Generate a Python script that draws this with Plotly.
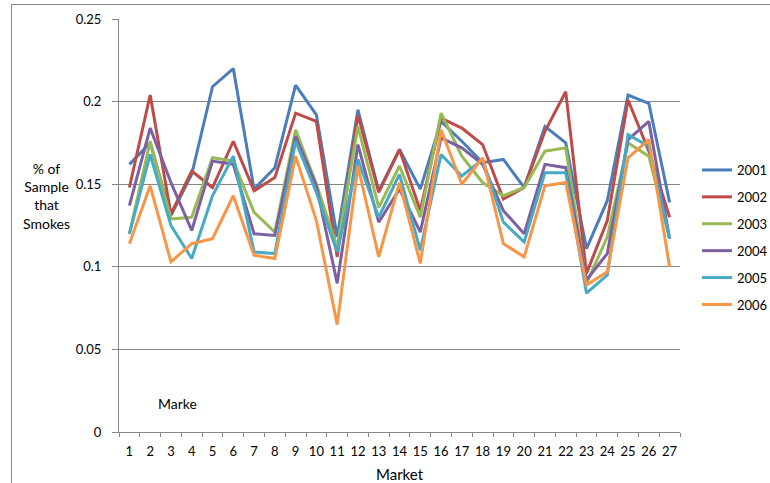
import plotly.graph_objects as go

markets = [str(i) for i in range(1, 28)]

s2001 = [0.162, 0.175, 0.131, 0.156, 0.209, 0.220, 0.147, 0.160, 0.210, 0.192, 0.118, 0.195,
         0.146, 0.171, 0.147, 0.188, 0.176, 0.163, 0.165, 0.148, 0.185, 0.175, 0.111, 0.140,
         0.204, 0.199, 0.139]
s2002 = [0.148, 0.204, 0.132, 0.158, 0.148, 0.176, 0.146, 0.154, 0.193, 0.188, 0.106, 0.192,
         0.145, 0.171, 0.134, 0.190, 0.184, 0.174, 0.141, 0.148, 0.182, 0.206, 0.096, 0.128,
         0.201, 0.170, 0.130]
s2003 = [0.120, 0.176, 0.129, 0.130, 0.166, 0.164, 0.133, 0.121, 0.183, 0.150, 0.112, 0.185,
         0.136, 0.161, 0.130, 0.193, 0.167, 0.151, 0.143, 0.148, 0.170, 0.172, 0.090, 0.118,
         0.175, 0.167, 0.117]
s2004 = [0.137, 0.184, 0.151, 0.122, 0.164, 0.162, 0.120, 0.119, 0.179, 0.149, 0.090, 0.174,
         0.127, 0.147, 0.121, 0.178, 0.172, 0.162, 0.134, 0.120, 0.162, 0.160, 0.092, 0.108,
         0.177, 0.188, 0.117]
s2005 = [0.120, 0.168, 0.125, 0.105, 0.143, 0.167, 0.109, 0.108, 0.176, 0.145, 0.109, 0.165,
         0.130, 0.156, 0.110, 0.168, 0.155, 0.165, 0.127, 0.115, 0.157, 0.157, 0.084, 0.095,
         0.180, 0.173, 0.117]
s2006 = [0.114, 0.149, 0.103, 0.114, 0.117, 0.143, 0.107, 0.105, 0.167, 0.128, 0.065, 0.161,
         0.106, 0.151, 0.102, 0.183, 0.150, 0.166, 0.114, 0.106, 0.149, 0.151, 0.089, 0.097,
         0.166, 0.177, 0.100]

series_names = ["2001", "2002", "2003", "2004", "2005", "2006"]
series_values = [s2001, s2002, s2003, s2004, s2005, s2006]
series_colors = ["#4A7EBB", "#BE4B48", "#98B954", "#7D60A0", "#46AAC5", "#F79646"]

y_ticks = [0, 0.05, 0.1, 0.15, 0.2, 0.25]
y_tick_text = ["0", "0.05", "0.1", "0.15", "0.2", "0.25"]

FONT = "Lato, Open Sans, sans-serif"
GRID = "#868686"

fig = go.Figure()
for name, vals, col in zip(series_names, series_values, series_colors):
    fig.add_trace(go.Scatter(
        x=markets, y=vals, mode="lines", name=name, legendgroup=name,
        line=dict(color=col, width=3),
    ))

# plot area spans 119..680 px horizontally and 19.5..432 px vertically
L, R, T, B = 119, 90, 19, 51
W, H = 770, 483
pw, ph = W - L - R, H - T - B


def px_x(px):
    return (px - L) / pw


def px_y(py):
    return (H - B - py) / ph


fig.update_layout(
    width=W, height=H,
    margin=dict(l=L, r=R, t=T, b=B, autoexpand=False),
    paper_bgcolor="white", plot_bgcolor="white",
    font=dict(family=FONT, size=13, color="#000000"),
    showlegend=True,
    legend=dict(
        xref="container", yref="container",
        x=697 / W, y=1 - 155 / H, xanchor="left", yanchor="top",
        font=dict(family=FONT, size=13),
        tracegroupgap=7, itemwidth=30,
        bgcolor="rgba(0,0,0,0)",
    ),
    xaxis=dict(
        type="category", range=[-0.5, 26.5],
        showgrid=False, showline=True, linecolor=GRID, linewidth=1,
        ticks="outside", ticklen=4, tickcolor=GRID, tickson="boundaries",
        tickangle=0, ticklabelstandoff=7,
        tickfont=dict(family=FONT, size=13),
        title=dict(text="Market", font=dict(family=FONT, size=15), standoff=12),
        zeroline=False, automargin=False,
    ),
    yaxis=dict(
        range=[0, 0.25], tickvals=y_ticks, ticktext=y_tick_text,
        showgrid=True, gridcolor=GRID, gridwidth=1,
        showline=True, linecolor=GRID, linewidth=1,
        ticks="outside", ticklen=6, tickcolor=GRID, ticklabelstandoff=8,
        tickfont=dict(family=FONT, size=13),
        zeroline=False, automargin=False,
    ),
    annotations=[
        dict(text="% of<br>Sample<br>that<br>Smokes", xref="paper", yref="paper",
             x=px_x(46), y=px_y(196), xanchor="center", yanchor="middle",
             showarrow=False, align="center",
             font=dict(family=FONT, size=14)),
        dict(text="Marke", xref="paper", yref="paper",
             x=px_x(177), y=px_y(403), xanchor="center", yanchor="middle",
             showarrow=False, font=dict(family=FONT, size=14)),
    ],
    shapes=[
        dict(type="rect", xref="paper", yref="paper",
             x0=px_x(11.5), x1=px_x(775), y0=px_y(490), y1=px_y(4.5),
             line=dict(color=GRID, width=1), fillcolor="rgba(0,0,0,0)", layer="below"),
    ],
)

fig.write_html("out.html")
